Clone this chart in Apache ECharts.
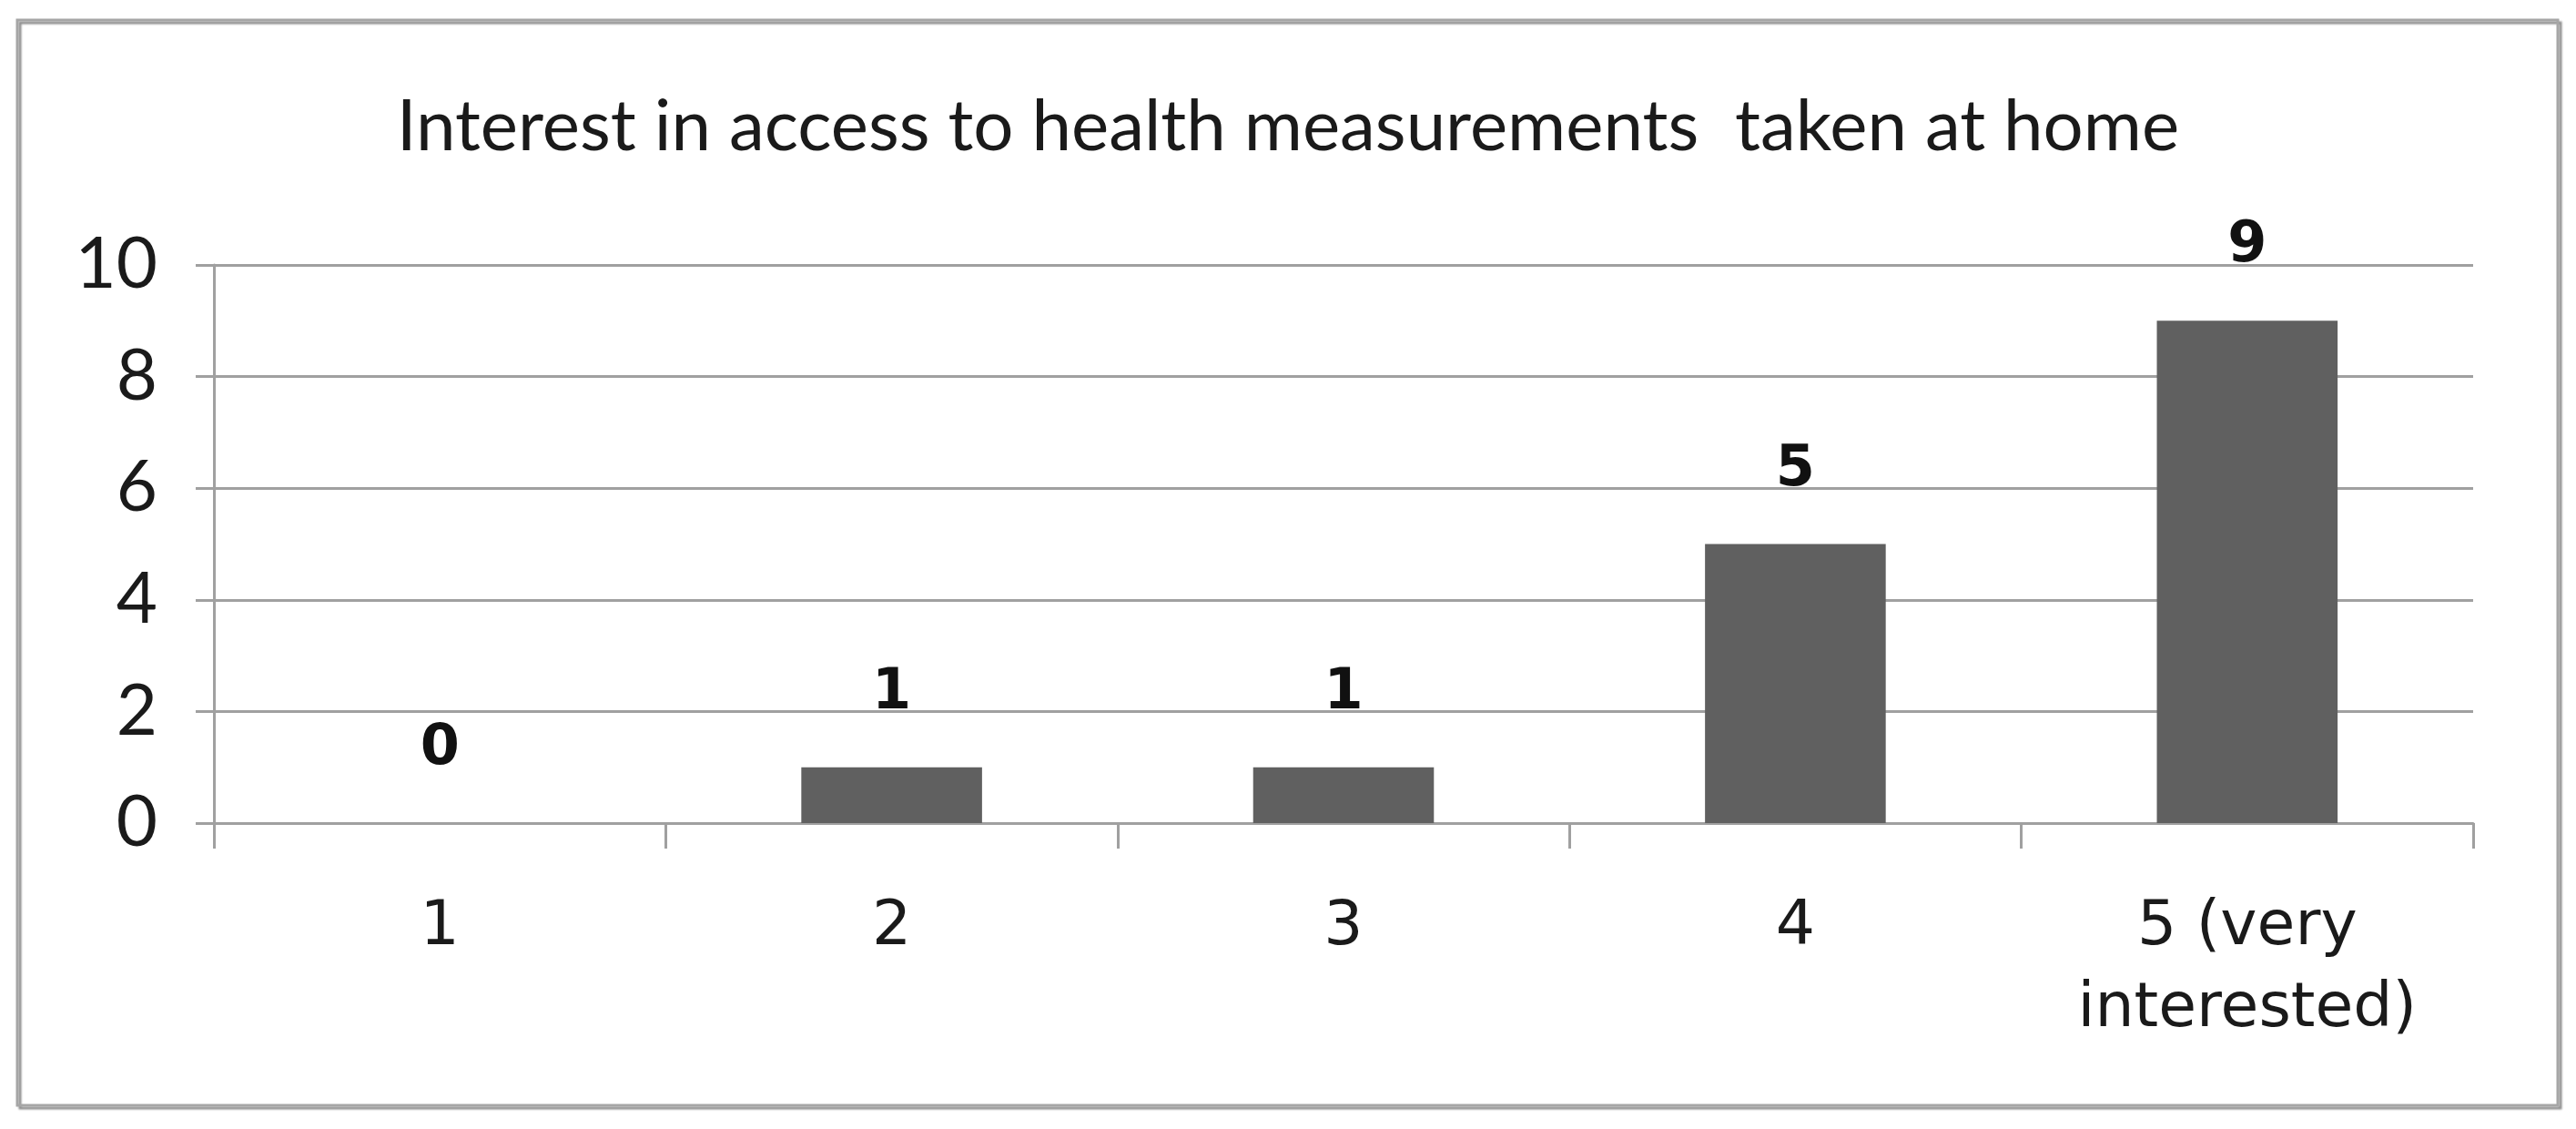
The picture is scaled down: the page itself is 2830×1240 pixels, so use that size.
<!DOCTYPE html>
<html>
<head>
<meta charset="utf-8">
<style>
  html, body { margin: 0; padding: 0; background: #fff; }
  #chart { width: 2830px; height: 1240px; }
</style>
<script src="https://cdn.jsdelivr.net/npm/echarts@6/dist/echarts.min.js"></script>
</head>
<body>
<div id="chart"></div>
<script>
// data
var titleText = 'Interest in access to health measurements  taken at home';
var categories = ['1', '2', '3', '4', '5 (very\ninterested)'];
var counts = [0, 1, 1, 5, 9];
var yMin = 0, yMax = 10, yStep = 2;

var chart = echarts.init(document.getElementById('chart'));

var option = {
    backgroundColor: '#ffffff',
    animation: false,
    title: {
        text: titleText,
        left: 'center',
        top: 96,
        textStyle: {
            fontFamily: 'Lato',
            fontWeight: 'normal',
            fontSize: 78,
            color: '#1a1a1a'
        }
    },
    // outer frame of the chart
    graphic: [{
        type: 'rect',
        shape: { x: 19, y: 22, width: 2791, height: 1192 },
        style: {
            fill: 'none',
            stroke: '#a6a6a6',
            lineWidth: 3,
            shadowColor: 'rgba(0,0,0,0.45)',
            shadowOffsetX: 3,
            shadowOffsetY: 3,
            shadowBlur: 2
        },
        silent: true
    }],
    grid: {
        left: 235,
        right: 113,
        top: 291,
        bottom: 336
    },
    xAxis: {
        type: 'category',
        data: categories,
        boundaryGap: true,
        axisLine: { show: true, lineStyle: { color: '#a0a0a0', width: 3 } },
        axisTick: { show: true, length: 28, lineStyle: { color: '#a0a0a0', width: 3 } },
        axisLabel: {
            margin: 70,
            fontFamily: 'DejaVu Sans',
            fontSize: 68,
            lineHeight: 90,
            color: '#1a1a1a'
        }
    },
    yAxis: {
        type: 'value',
        min: yMin,
        max: yMax,
        interval: yStep,
        axisLine: { show: true, lineStyle: { color: '#a0a0a0', width: 3 } },
        axisTick: { show: true, length: 20, lineStyle: { color: '#a0a0a0', width: 3 } },
        splitLine: { show: true, lineStyle: { color: '#a0a0a0', width: 3 } },
        axisLabel: {
            margin: 62,
            fontFamily: 'Lato',
            fontSize: 78,
            color: '#1a1a1a'
        }
    },
    series: [{
        type: 'bar',
        data: counts,
        barWidth: '40%',
        itemStyle: {
            color: '#606060'
        },
        label: {
            show: true,
            position: 'top',
            distance: 50,
            fontFamily: 'DejaVu Sans',
            fontWeight: 'bold',
            fontSize: 62,
            color: '#111111'
        }
    }]
};

chart.setOption(option);
</script>
</body>
</html>
